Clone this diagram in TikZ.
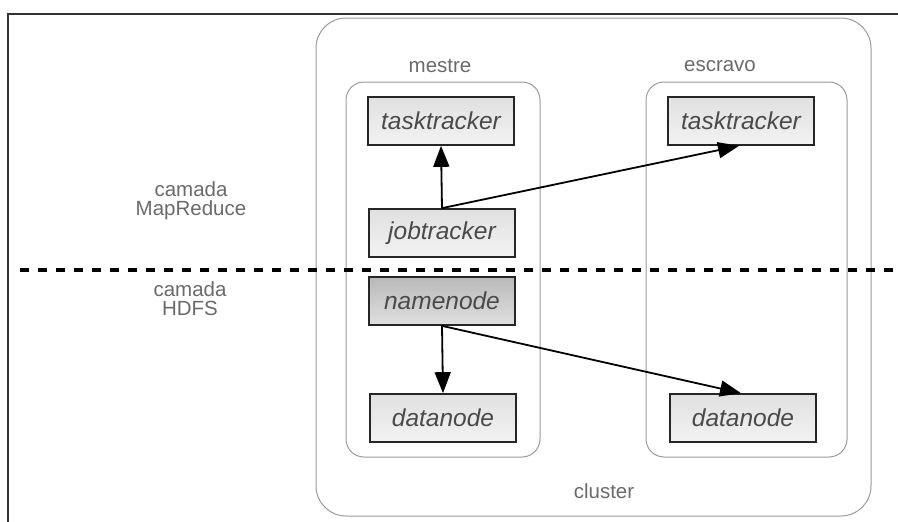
\documentclass[tikz,border=0pt]{standalone}
\usepackage{fontspec}
\setmainfont{Liberation Sans}
\usetikzlibrary{arrows.meta}
\definecolor{txtgray}{HTML}{4A4A4A}
\definecolor{lblgray}{HTML}{6A6A6A}
\definecolor{rimgray}{HTML}{9A9A9A}
\tikzset{
  proc/.style={draw=black!85, line width=1.7pt, minimum width=146pt, minimum height=48pt,
    inner sep=0pt, top color=gray!24, bottom color=gray!10, text=txtgray,
    font=\fontsize{24.5}{27}\selectfont\itshape},
  procdark/.style={proc, top color=gray!55, bottom color=gray!25},
  group/.style={draw=rimgray, line width=1pt, rounded corners=18pt},
  lbl/.style={text=lblgray, font=\fontsize{20.5}{23}\selectfont, align=center},
  link/.style={draw=black, line width=1.8pt, -{Triangle[length=21pt,width=16pt]}},
  sep/.style={draw=black, line width=4.8pt, dash pattern=on 9pt off 9pt}
}
\begin{document}
\begin{tikzpicture}[x=1pt,y=-1pt]
  \useasboundingbox (0,0) rectangle (898,522);
  % page frame
  \draw[black!80, line width=1.8pt] (8,530) -- (8,14) -- (905,14);
  % cluster and the two machines
  \draw[draw=rimgray, line width=1pt, rounded corners=30pt] (316,18) rectangle (871,516);
  \draw[group] (346,82) rectangle (540,457);
  \draw[group] (646,82) rectangle (847,457);
  \node[lbl] (lmestre) at (440,66) {mestre};
  \node[lbl] (lescravo) at (720,66) {escravo};
  \node[lbl] (lcluster) at (604,491) {cluster};
  % layer labels
  \node[lbl] (lmr) at (191,201) {camada\\[-4pt]MapReduce};
  \node[lbl] (lhdfs) at (190,299) {camada\\[-4pt]HDFS};
  % layer separator
  \coordinate (sepA) at (20,270);
  \coordinate (sepB) at (900,270);
  \draw[sep] (sepA) -- (sepB);
  % daemons
  \node[proc] (tt1) at (441,121) {tasktracker};
  \node[proc] (jt) at (442,233) {jobtracker};
  \node[procdark] (nn) at (442,301) {namenode};
  \node[proc] (dn1) at (443,418) {datanode};
  \node[proc] (tt2) at (741,121) {tasktracker};
  \node[proc] (dn2) at (743,418) {datanode};
  % connections
  \draw[link] (jt.north) -- (tt1.south);
  \draw[link] (jt.north) -- ([xshift=-2pt]tt2.south);
  \draw[link] (nn.south) -- (dn1.north);
  \draw[link] (nn.south) -- ([xshift=-2pt]dn2.north);
\end{tikzpicture}
\end{document}
